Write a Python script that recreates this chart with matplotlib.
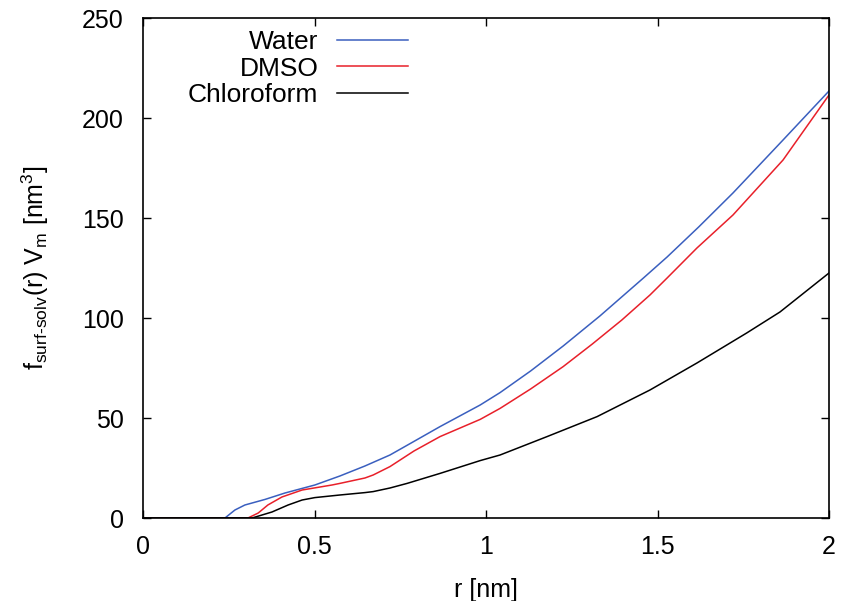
import numpy as np
import matplotlib
matplotlib.use("Agg")
import matplotlib.pyplot as plt

# values (r in nm, f*Vm in nm^3)
r_water = [0, 0.239, 0.268, 0.297, 0.356, 0.414, 0.501, 0.574, 0.647, 0.72, 0.79, 0.866,
           0.983, 1.041, 1.13, 1.225, 1.332, 1.459, 1.528, 1.62, 1.72, 1.866, 2.0]
f_water = [0, 0, 4, 6.5, 9.3, 12.5, 16.5, 21, 26, 31.5, 38.3, 45.7,
           56.5, 62.7, 73.5, 86, 101, 120, 130.5, 145.5, 162.5, 189, 213.5]

r_dmso = [0, 0.306, 0.336, 0.364, 0.405, 0.464, 0.551, 0.574, 0.647, 0.671, 0.72, 0.79, 0.866,
          0.983, 1.041, 1.13, 1.225, 1.31, 1.396, 1.478, 1.528, 1.615, 1.72, 1.866, 2.0]
f_dmso = [0, 0, 2.5, 6.5, 10.5, 14, 16.5, 17.3, 20, 21.5, 25.7, 33.5, 40.7,
          49.3, 54.8, 64.5, 75.7, 87, 99, 111.5, 120, 135, 151.5, 179, 211.5]

r_chl = [0, 0.318, 0.376, 0.423, 0.464, 0.501, 0.574, 0.647, 0.671, 0.72, 0.77, 0.866,
         0.983, 1.041, 1.178, 1.324, 1.478, 1.615, 1.76, 1.857, 2.0]
f_chl = [0, 0, 3, 6.5, 9, 10.2, 11.5, 12.7, 13.2, 15, 17.3, 22.3,
         28.7, 31.5, 40.7, 50.7, 64, 77.5, 92.5, 103, 122.5]

xticks = [0, 0.5, 1, 1.5, 2]
xtick_labels = ["0", "0.5", "1", "1.5", "2"]
yticks = [0, 50, 100, 150, 200, 250]

plt.rcParams['font.family'] = ['Liberation Sans', 'DejaVu Sans']
plt.rcParams['mathtext.fontset'] = 'custom'
plt.rcParams['mathtext.rm'] = 'Liberation Sans'
plt.rcParams['mathtext.default'] = 'regular'

fig = plt.figure(figsize=(8.43, 6.01), dpi=100)
ax = fig.add_axes([143/843, 1 - 518/601, 686/843, 500/601])

ax.plot(r_water, f_water, color='#3a5fbf', lw=1.1, label='Water')
ax.plot(r_dmso, f_dmso, color='#e8202a', lw=1.1, label='DMSO')
ax.plot(r_chl, f_chl, color='black', lw=1.1, label='Chloroform')

ax.set_xlim(0, 2)
ax.set_ylim(0, 250)
ax.set_xticks(xticks)
ax.set_xticklabels(xtick_labels)
ax.set_yticks(yticks)
ax.tick_params(direction='in', top=True, right=True, length=6, width=1,
               labelsize=18)
ax.tick_params(axis='x', pad=12)
ax.tick_params(axis='y', pad=14)
for s in ax.spines.values():
    s.set_linewidth(1.2)

ax.set_xlabel('r [nm]', fontsize=18, labelpad=14)
ax.set_ylabel(r'f$_{surf\text{-}solv}$(r) V$_m$ [nm$^3$]', fontsize=18, labelpad=22)

ax.legend(loc='upper right', bbox_to_anchor=((408 - 143) / 686, 0.976),
          markerfirst=False, frameon=False, fontsize=19, handlelength=2.7,
          handletextpad=0.7, labelspacing=0.1, borderpad=0, borderaxespad=0)

fig.savefig('out.png', dpi=100)
